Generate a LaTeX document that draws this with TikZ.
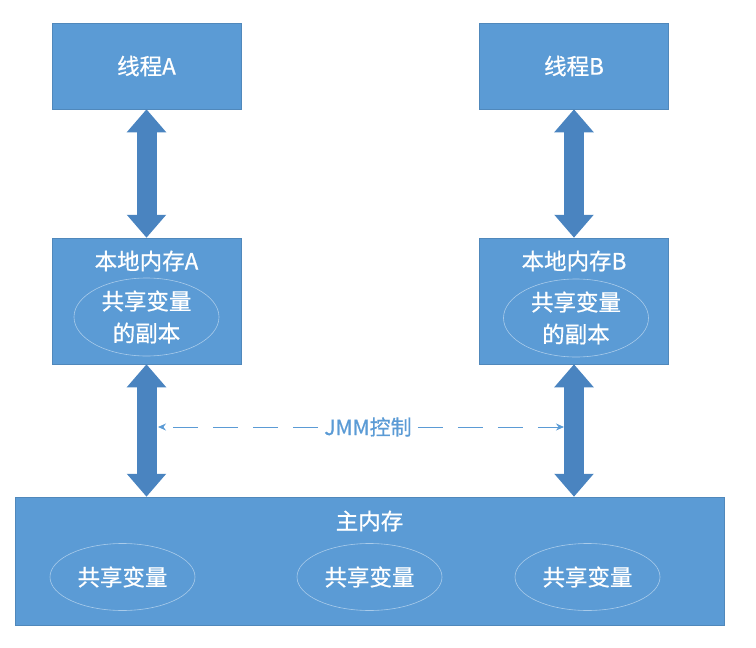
\documentclass[tikz,border=0pt]{standalone}
\usepackage{fontspec}
\newfontfamily\cjk{Noto Sans CJK SC}[FakeBold=0.7]
\usetikzlibrary{arrows.meta,shapes.geometric}
\definecolor{boxblue}{HTML}{5B9BD5}
\definecolor{arrowblue}{HTML}{4A84C0}
\definecolor{rimblue}{HTML}{A9CBEA}

\begin{document}
\begin{tikzpicture}[x=1pt,y=-1pt,
  every node/.style={font=\cjk\fontsize{22.5}{32}\selectfont,text=white},
  membox/.style={rectangle,fill=boxblue,draw=boxblue!88!black,line width=0.5pt,
    minimum width=189pt,minimum height=86pt,inner sep=0pt},
  copyoval/.style={ellipse,draw=rimblue,line width=0.6pt,minimum width=145pt,
    minimum height=78pt,inner sep=0pt,align=center},
  varoval/.style={copyoval,minimum height=67pt},
  fat/.style={draw=arrowblue,line width=20pt,
    {Triangle[length=23pt,width=38pt]}-{Triangle[length=23pt,width=38pt]}},
  ctrl/.style={draw=boxblue,line width=1pt,dash pattern=on 25pt off 15pt,
    -{Stealth[length=8pt,width=7pt]}}]
  \useasboundingbox (0,0) rectangle (756,648);
  % threads
  \node[membox] (thrA) at (146.5,66) {线程A};
  \node[membox] (thrB) at (574,66) {线程B};
  % local memories
  \node[membox,minimum height=126pt] (memA) at (146.5,301) {};
  \node[membox,minimum height=126pt] (memB) at (574,301) {};
  \node (locA) at (146.5,261) {本地内存A};
  \node (locB) at (574,261) {本地内存B};
  \node[copyoval] (cpyA) at (146.5,317) {共享变量\\的副本};
  \node[copyoval] (cpyB) at (576,318) {共享变量\\的副本};
  % main memory
  \node[membox,minimum width=709pt,minimum height=128pt] (main) at (369.5,561) {};
  \node (mainlbl) at (369.5,521) {主内存};
  \node[varoval] (var1) at (122.5,577) {共享变量};
  \node[varoval] (var2) at (369.5,577) {共享变量};
  \node[varoval] (var3) at (587.5,577) {共享变量};
  % links
  \draw[fat] (thrA.south) -- (memA.north);
  \draw[fat] (thrB.south) -- (memB.north);
  \draw[fat] (memA.south) -- (memA.south |- main.north);
  \draw[fat] (memB.south) -- (memB.south |- main.north);
  % JMM control
  \node[text=boxblue,font=\cjk\fontsize{21}{24}\selectfont,inner xsep=6pt] (jmm) at (368,427) {JMM控制};
  \coordinate (jmmL) at (158,427);
  \coordinate (jmmR) at (564,427);
  \draw[ctrl] (jmm) -- (jmmL);
  \draw[ctrl] (jmm) -- (jmmR);
\end{tikzpicture}
\end{document}
